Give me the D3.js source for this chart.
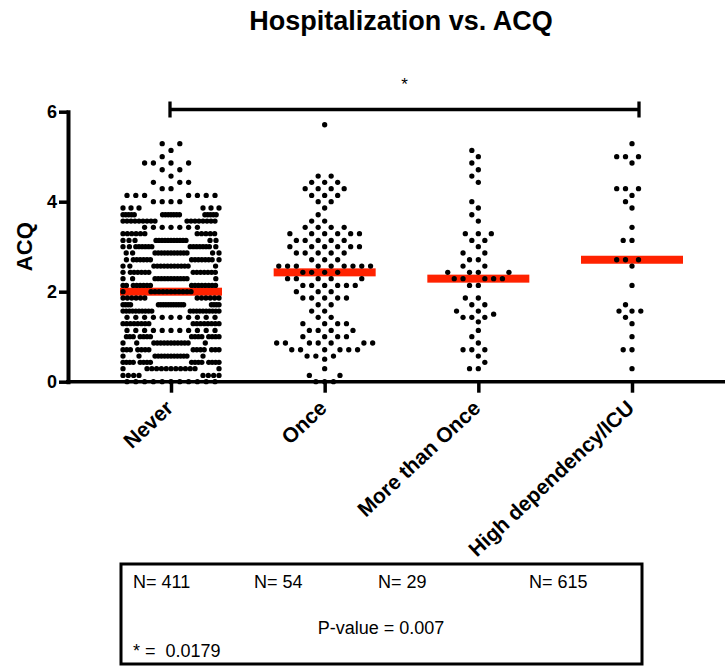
<!DOCTYPE html>
<html>
<head>
<meta charset="utf-8">
<script src="https://cdn.jsdelivr.net/npm/d3@7"></script>
<style>
  html, body { margin: 0; padding: 0; background: #ffffff; }
  svg { display: block; font-family: 'Liberation Sans', Arial, Helvetica, sans-serif; }
</style>
</head>
<body>
<div id="chart"></div>
<script>
const categories = ['Never', 'Once', 'More than Once', 'High dependency/ICU']

const neverScores = [0, 0.14, 0.29, 0.43, 0.57, 0.71, 0.86, 1.0, 1.14, 1.29, 1.43, 1.57, 1.71, 1.86, 2.0, 2.14, 2.29, 2.43, 2.57, 2.71, 2.86, 3.0, 3.14, 3.29, 3.43, 3.57, 3.71, 3.86, 4.0, 4.14, 4.29, 4.43, 4.57, 4.71, 4.86, 5.0, 5.14, 5.29]
const neverCounts = [11, 8, 13, 16, 14, 14, 14, 15, 11, 16, 11, 20, 19, 12, 12, 16, 14, 14, 14, 15, 15, 16, 16, 11, 7, 17, 17, 6, 4, 7, 2, 3, 1, 2, 4, 1, 1, 2]

const onceScores = [0, 0.14, 0.29, 0.5, 0.57, 0.71, 0.86, 1.0, 1.14, 1.29, 1.43, 1.57, 1.71, 1.86, 2.0, 2.14, 2.29, 2.43, 2.57, 2.71, 2.86, 3.0, 3.14, 3.29, 3.43, 3.57, 3.71, 3.86, 4.0, 4.14, 4.29, 4.43, 4.57, 5.71]
const onceCounts = [3, 2, 1, 1, 3, 6, 7, 4, 4, 4, 2, 2, 2, 5, 3, 6, 5, 4, 9, 3, 5, 6, 5, 6, 4, 2, 1, 1, 2, 3, 4, 3, 2, 1]

const moreScores = [0.29, 0.43, 0.57, 0.71, 0.86, 1.0, 1.14, 1.33, 1.43, 1.5, 1.57, 1.71, 1.86, 2.14, 2.29, 2.43, 2.57, 2.71, 2.86, 3.0, 3.14, 3.29, 3.57, 3.71, 3.86, 4.0, 4.43, 4.57, 4.71, 4.86, 5.0, 5.14]
const moreCounts = [2, 1, 1, 3, 1, 1, 1, 1, 3, 1, 2, 2, 2, 2, 5, 4, 2, 2, 2, 1, 2, 3, 1, 1, 1, 1, 1, 1, 1, 1, 1, 1]

const highScores = [0.29, 0.71, 1.0, 1.29, 1.43, 1.57, 1.71, 2.14, 2.57, 2.71, 3.14, 3.43, 3.86, 4.0, 4.14, 4.29, 4.86, 5.0, 5.29]
const highCounts = [1, 2, 1, 1, 1, 3, 1, 1, 1, 3, 2, 1, 1, 1, 1, 3, 1, 3, 1]

const yTicks = [0, 2, 4, 6]
const sampleSizes = ['N= 411', 'N= 54', 'N= 29', 'N= 615']
const pValueText = 'P-value = 0.007'
const starValueText = '* =  0.0179'

const width = 725
const height = 666

const svg = d3.select('#chart')
  .append('svg')
  .attr('width', width)
  .attr('height', height)

const plotLeft = 68
const yScale = d3.scaleLinear().domain([0, 6]).range([381.7, 111.7])
const xScale = d3.scalePoint().domain(categories).range([171, 632])

const dotRadius = 2.65
const dotSpacing = 8.8
const barWidth = 102
const maxHalf = 48

function expand(scores, counts) {
  const out = []
  scores.forEach((s, i) => {
    for (let j = 0; j < counts[i]; j++) out.push(s)
  })
  return out
}

// greedy row packing, then rows that run too wide get squeezed into the column
function swarm(values, gap) {
  const placed = []
  values.slice().sort(d3.ascending).forEach(v => {
    const y = yScale(v)
    const near = placed.filter(p => Math.abs(p.y - y) < 7.5)
    const forbidden = near.map(p => {
      const d = Math.abs(p.y - y) < 4 ? dotSpacing : gap
      return [p.x - d, p.x + d]
    })
    const ok = x => forbidden.every(([a, b]) => x <= a + 1e-6 || x >= b - 1e-6)
    const cands = [0]
    forbidden.forEach(([a, b]) => cands.push(a, b))
    const sameRow = near.filter(p => Math.abs(p.y - y) < 1)
    const left = sameRow.filter(p => p.x < -1e-6).length
    const right = sameRow.filter(p => p.x > 1e-6).length
    const prefer = right < left ? 1 : -1
    let best = null
    cands.filter(ok).forEach(x => {
      if (best === null) { best = x; return }
      const ax = Math.abs(x)
      const ab = Math.abs(best)
      if (ax < ab - 1e-6) best = x
      else if (Math.abs(ax - ab) < 1e-6 && Math.sign(x) === prefer) best = x
    })
    placed.push({ value: v, x: best, y })
  })

  d3.group(placed, p => p.value).forEach(row => {
    const wide = d3.max(row, p => Math.abs(p.x))
    if (wide > maxHalf) row.forEach(p => { p.x = p.x * maxHalf / wide })
  })
  return placed
}

const groups = [
  { name: categories[0], values: expand(neverScores, neverCounts) },
  { name: categories[1], values: expand(onceScores, onceCounts) },
  { name: categories[2], values: expand(moreScores, moreCounts) },
  { name: categories[3], values: expand(highScores, highCounts) },
]

// title
svg.append('text')
  .attr('x', 401)
  .attr('y', 30)
  .attr('text-anchor', 'middle')
  .attr('font-size', 27)
  .attr('font-weight', 'bold')
  .text('Hospitalization vs. ACQ')

// y axis
svg.append('g')
  .attr('transform', `translate(${plotLeft},0)`)
  .call(d3.axisLeft(yScale).tickValues(yTicks).tickFormat(d3.format('d')).tickSize(9).tickPadding(2).tickSizeOuter(0))
  .call(g => g.select('.domain').attr('stroke', '#000').attr('stroke-width', 4).attr('stroke-linecap', 'square'))
  .call(g => g.selectAll('.tick line').attr('stroke', '#000').attr('stroke-width', 3.5))
  .call(g => g.selectAll('.tick text')
    .attr('fill', '#000')
    .attr('font-size', 18)
    .attr('font-weight', 'bold')
    .attr('font-family', null))

svg.append('text')
  .attr('transform', `translate(32, ${(yScale(0) + yScale(6)) / 2}) rotate(-90)`)
  .attr('text-anchor', 'middle')
  .attr('font-size', 22)
  .attr('font-weight', 'bold')
  .text('ACQ')

// x axis
svg.append('line')
  .attr('x1', plotLeft - 2)
  .attr('x2', width)
  .attr('y1', yScale(0))
  .attr('y2', yScale(0))
  .attr('stroke', '#000')
  .attr('stroke-width', 3.5)

svg.append('g')
  .attr('transform', `translate(0,${yScale(0)})`)
  .call(d3.axisBottom(xScale).tickSize(11).tickSizeOuter(0))
  .call(g => g.select('.domain').remove())
  .call(g => g.selectAll('.tick line').attr('stroke', '#000').attr('stroke-width', 3.5))
  .call(g => g.selectAll('.tick text')
    .attr('fill', '#000')
    .attr('font-size', 21)
    .attr('font-weight', 'bold')
    .attr('font-family', null)
    .attr('text-anchor', 'end')
    .attr('x', 0)
    .attr('y', 0)
    .attr('dy', 0)
    .attr('transform', 'translate(3, 28) rotate(-43)'))

// median bars, then dots on top
groups.forEach(g => {
  const cx = xScale(g.name)
  const med = d3.median(g.values)

  svg.append('rect')
    .attr('x', cx - barWidth / 2)
    .attr('y', yScale(med) - 4)
    .attr('width', barWidth)
    .attr('height', 8)
    .attr('fill', '#ff2200')

  const pts = swarm(g.values, g.values.length > 200 ? dotSpacing : 6.5)

  svg.append('g')
    .selectAll('circle')
    .data(pts)
    .join('circle')
    .attr('cx', d => cx + d.x)
    .attr('cy', d => d.y)
    .attr('r', dotRadius)
    .attr('fill', '#000')
})

// significance bracket
const bx1 = xScale(categories[0]) - 1
const bx2 = xScale(categories[3]) + 7
const by = 109.5
const bracket = svg.append('g').attr('stroke', '#000').attr('stroke-width', 3.3)
bracket.append('line').attr('x1', bx1).attr('x2', bx2).attr('y1', by).attr('y2', by)
bracket.append('line').attr('x1', bx1).attr('x2', bx1).attr('y1', by - 8).attr('y2', by + 8)
bracket.append('line').attr('x1', bx2).attr('x2', bx2).attr('y1', by - 8).attr('y2', by + 8)

svg.append('text')
  .attr('x', (bx1 + bx2) / 2)
  .attr('y', 90)
  .attr('text-anchor', 'middle')
  .attr('font-size', 17)
  .text('*')

// stats table
const box = { x: 121, y: 564, w: 521, h: 100 }
svg.append('rect')
  .attr('x', box.x)
  .attr('y', box.y)
  .attr('width', box.w)
  .attr('height', box.h)
  .attr('fill', 'none')
  .attr('stroke', '#000')
  .attr('stroke-width', 3)

const nX = [133, 254, 378, 529]
svg.append('g')
  .selectAll('text')
  .data(sampleSizes)
  .join('text')
  .attr('x', (d, i) => nX[i])
  .attr('y', 588)
  .attr('font-size', 18)
  .text(d => d)

svg.append('text')
  .attr('x', 381)
  .attr('y', 634)
  .attr('text-anchor', 'middle')
  .attr('font-size', 18)
  .text(pValueText)

svg.append('text')
  .attr('x', 133)
  .attr('y', 657)
  .attr('font-size', 18)
  .attr('xml:space', 'preserve')
  .style('white-space', 'pre')
  .text(starValueText)
</script>
</body>
</html>
